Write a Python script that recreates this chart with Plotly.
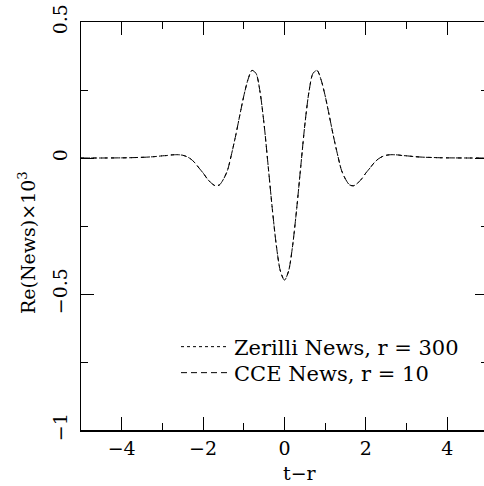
import plotly.graph_objects as go

# ---- data ----
t_minus_r = [-5.0, -4.5, -4.0, -3.8, -3.6, -3.4, -3.2, -3.0, -2.9, -2.8, -2.7, -2.6, -2.5, -2.4,
             -2.3, -2.2, -2.1, -2.0, -1.9, -1.8, -1.7, -1.6, -1.5, -1.4, -1.3, -1.2, -1.1, -1.0,
             -0.9, -0.8, -0.7, -0.6, -0.5, -0.4, -0.3, -0.2, -0.1, 0.0,
             0.1, 0.2, 0.3, 0.4, 0.5, 0.6, 0.7, 0.8, 0.9, 1.0, 1.1, 1.2, 1.3, 1.4, 1.5, 1.6,
             1.7, 1.8, 1.9, 2.0, 2.1, 2.2, 2.3, 2.4, 2.5, 2.6, 2.7, 2.8, 2.9, 3.0, 3.2, 3.4,
             3.6, 3.8, 4.0, 4.5, 5.0]

zerilli_news = [0.0, 0.0, 0.0005, 0.001, 0.002, 0.003, 0.005, 0.008, 0.009, 0.011, 0.012, 0.012,
                0.010, 0.005, -0.004, -0.018, -0.037, -0.055, -0.076, -0.092, -0.102, -0.099,
                -0.078, -0.045, 0.015, 0.082, 0.156, 0.228, 0.287, 0.322, 0.311, 0.242, 0.122,
                -0.031, -0.186, -0.322, -0.416, -0.449,
                -0.416, -0.322, -0.186, -0.031, 0.122, 0.242, 0.311, 0.322, 0.287, 0.228, 0.156,
                0.082, 0.015, -0.045, -0.078, -0.099, -0.102, -0.092, -0.076, -0.055, -0.037,
                -0.018, -0.004, 0.005, 0.010, 0.012, 0.012, 0.011, 0.009, 0.008, 0.005, 0.003,
                0.002, 0.001, 0.0005, 0.0, 0.0]

cce_news = [0.0, 0.0, 0.0005, 0.001, 0.002, 0.003, 0.005, 0.008, 0.009, 0.011, 0.012, 0.012,
            0.010, 0.005, -0.004, -0.018, -0.037, -0.055, -0.076, -0.092, -0.102, -0.099,
            -0.078, -0.045, 0.015, 0.082, 0.156, 0.228, 0.287, 0.322, 0.311, 0.242, 0.122,
            -0.031, -0.186, -0.322, -0.416, -0.449,
            -0.416, -0.322, -0.186, -0.031, 0.122, 0.242, 0.311, 0.322, 0.287, 0.228, 0.156,
            0.082, 0.015, -0.045, -0.078, -0.099, -0.102, -0.092, -0.076, -0.055, -0.037,
            -0.018, -0.004, 0.005, 0.010, 0.012, 0.012, 0.011, 0.009, 0.008, 0.005, 0.003,
            0.002, 0.001, 0.0005, 0.0, 0.0]

series_names = ["Zerilli News, r = 300", "CCE News, r = 10"]

x_tick_vals = [-4, -2, 0, 2, 4]
x_tick_text = ["\u22124", "\u22122", "0", "2", "4"]
y_tick_vals = [-1, -0.5, 0, 0.5]
y_tick_text = ["\u22121", "\u22120.5", "0", "0.5"]

FONT = "DejaVu Serif"
W, H = 484, 486
ML, MR, MT, MB = 81, 0, 22, 56
XR = [-5, 4.902]
YR = [-1, 0.5]
pw, ph = W - ML - MR, H - MT - MB


def px_to_paper(px, py):
    return (px - ML) / pw, (H - MB - py) / ph


fig = go.Figure()
fig.add_trace(go.Scatter(x=t_minus_r, y=zerilli_news, mode="lines", name=series_names[0],
                         legend="legend",
                         line=dict(color="black", width=1, dash="dot", shape="spline", smoothing=0.8)))
fig.add_trace(go.Scatter(x=t_minus_r, y=cce_news, mode="lines", name=series_names[1],
                         legend="legend2",
                         line=dict(color="black", width=1, dash="6px,4px", shape="spline", smoothing=0.8)))
# invisible trace to host top / right tick axes
fig.add_trace(go.Scatter(x=[None], y=[None], xaxis="x2", yaxis="y2", showlegend=False, hoverinfo="skip"))

l1x, l1y = px_to_paper(176, 347)
l2x, l2y = px_to_paper(176, 373)
tx, ty = px_to_paper(300, 473)
yx, yy = px_to_paper(27, 243)

legend_common = dict(xanchor="left", yanchor="middle", bgcolor="rgba(0,0,0,0)",
                     borderwidth=0, font=dict(family=FONT, size=21, color="black"),
                     tracegroupgap=0, itemwidth=48)

fig.update_layout(
    width=W, height=H,
    margin=dict(l=ML, r=MR, t=MT, b=MB, pad=0, autoexpand=False),
    paper_bgcolor="white", plot_bgcolor="white",
    font=dict(family=FONT, size=19, color="black"),
    showlegend=True,
    legend=dict(x=l1x, y=l1y, **legend_common),
    legend2=dict(x=l2x, y=l2y, **legend_common),
    xaxis=dict(range=XR, showgrid=False, zeroline=False, automargin=False,
               showline=True, linecolor="black", linewidth=2, mirror=False,
               ticks="inside", ticklen=13, tickwidth=1, tickcolor="black",
               tickvals=x_tick_vals, ticktext=x_tick_text, ticklabelstandoff=0,
               minor=dict(ticks="inside", ticklen=7, tickwidth=1, tickcolor="black",
                          tickvals=[-3, -1, 1, 3], showgrid=False)),
    yaxis=dict(range=YR, showgrid=False, zeroline=False, automargin=False,
               showline=True, linecolor="black", linewidth=1, mirror=False,
               ticks="inside", ticklen=13, tickwidth=1, tickcolor="black",
               tickvals=y_tick_vals, ticktext=y_tick_text, tickangle=-90,
               ticklabelstandoff=5,
               minor=dict(ticks="inside", ticklen=7, tickwidth=1, tickcolor="black",
                          tickvals=[-0.75, -0.25, 0.25], showgrid=False)),
    xaxis2=dict(range=XR, overlaying="x", side="top", anchor="y", showgrid=False,
                zeroline=False, showline=True, linecolor="black", linewidth=1, automargin=False,
                ticks="inside", ticklen=13, tickwidth=1, tickcolor="black",
                tickvals=x_tick_vals, showticklabels=False,
                minor=dict(ticks="inside", ticklen=7, tickwidth=1, tickcolor="black",
                           tickvals=[-3, -1, 1, 3], showgrid=False)),
    yaxis2=dict(range=YR, overlaying="y", side="right", anchor="x", showgrid=False,
                zeroline=False, showline=False, automargin=False,
                ticks="inside", ticklen=9, tickwidth=1, tickcolor="black",
                tickvals=y_tick_vals, showticklabels=False,
                minor=dict(ticks="inside", ticklen=3, tickwidth=1, tickcolor="black",
                           tickvals=[-0.75, -0.25, 0.25], showgrid=False)),
    annotations=[
        dict(text="t\u2212r", x=tx, y=ty, xref="paper", yref="paper", showarrow=False,
             xanchor="center", yanchor="middle", font=dict(family=FONT, size=19)),
        dict(text="Re(News)\u00d710<sup>3</sup>", x=yx, y=yy, xref="paper", yref="paper",
             textangle=-90, xanchor="center", yanchor="middle",
             showarrow=False, font=dict(family=FONT, size=19)),
    ],
)

fig.write_html("out.html", config={"displayModeBar": False},
               post_script="document.body.style.margin='0';document.body.style.padding='0';")
